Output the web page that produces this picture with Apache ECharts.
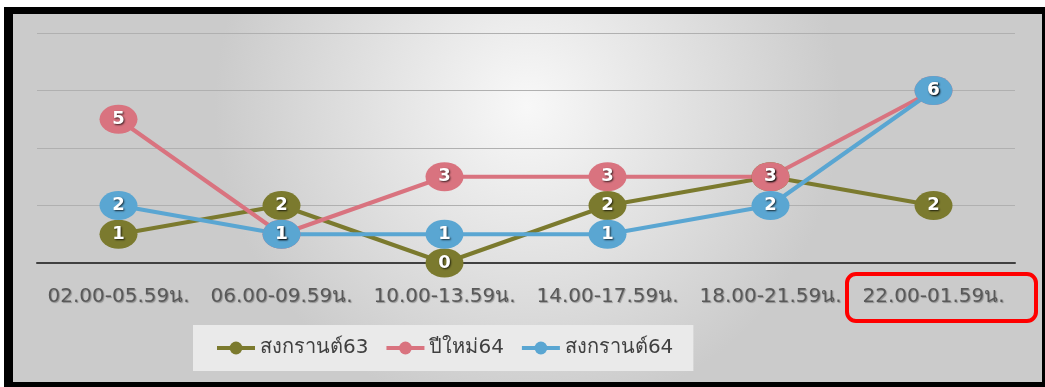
<!DOCTYPE html>
<html><head><meta charset="utf-8">
<script src="https://cdn.jsdelivr.net/npm/echarts@6/dist/echarts.min.js"></script>
<style>html,body{margin:0;padding:0;background:#fff}#c{width:1045px;height:387px}</style>
</head><body><div id="c"></div>
<script>
var categories = ['02.00-05.59น.', '06.00-09.59น.', '10.00-13.59น.', '14.00-17.59น.', '18.00-21.59น.', '22.00-01.59น.'];
var songkran63 = [1, 2, 0, 2, 3, 2];
var newYear64 = [5, 1, 3, 3, 3, 6];
var songkran64 = [2, 1, 1, 1, 2, 6];
var seriesNames = ['สงกรานต์63', 'ปีใหม่64', 'สงกรานต์64'];
var colors = ['#7b7a2e', '#d9737f', '#5aa6d2'];

var ellipse = 'path://M0,50 A50,50 0 1,1 100,50 A50,50 0 1,1 0,50 Z';
var font = '"DejaVu Sans", Verdana, sans-serif';

function mk(name, data, color) {
  return {
    name: name, type: 'line', data: data,
    symbol: ellipse, symbolSize: [38, 29], symbolKeepAspect: false,
    lineStyle: { color: color, width: 4 },
    itemStyle: { color: color },
    label: { show: true, position: 'inside', color: '#fff', fontFamily: font, fontWeight: 'bold', fontSize: 18,
      textShadowColor: 'rgba(0,0,0,0.75)', textShadowBlur: 2, textShadowOffsetX: 1, textShadowOffsetY: 1 },
    emphasis: { disabled: true }, animation: false
  };
}

var chart = echarts.init(document.getElementById('c'));
chart.setOption({
  backgroundColor: '#fff',
  animation: false,
  graphic: [
    { type: 'rect', z: -11, shape: { x: 4, y: 7, width: 1041, height: 380 }, style: { fill: '#000' } },
    { type: 'rect', z: -10, shape: { x: 13, y: 14, width: 1029, height: 368 },
      style: { fill: { type: 'radial', x: 0.5, y: 0.25, r: 0.85, colorStops: [{ offset: 0, color: '#f8f8f8' }, { offset: 1, color: '#cbcbcb' }] } } },
    { type: 'rect', z: 100, shape: { x: 847, y: 274, width: 189, height: 47, r: 9 },
      style: { fill: 'none', stroke: '#ff0000', lineWidth: 4 } }
  ],
  grid: { left: 37, right: 30, top: 33, bottom: 124 },
  legend: {
    data: seriesNames, top: 325, left: 193,
    backgroundColor: '#eaeaea', padding: [13, 20, 13, 22], itemGap: 16,
    itemWidth: 38, itemHeight: 16,
    lineStyle: { width: 4 },
    textStyle: { color: '#404040', fontFamily: font, fontSize: 20 }
  },
  xAxis: {
    type: 'category', data: categories, boundaryGap: true,
    axisLine: { lineStyle: { color: '#404040', width: 2 } },
    axisTick: { show: false },
    axisLabel: { color: '#595959', fontFamily: font, fontSize: 20, margin: 24, interval: 0,
      textShadowColor: 'rgba(0,0,0,0.3)', textShadowBlur: 1, textShadowOffsetX: 1, textShadowOffsetY: 1 }
  },
  yAxis: {
    type: 'value', min: 0, max: 8, interval: 2,
    axisLabel: { show: false }, axisLine: { show: false }, axisTick: { show: false },
    splitLine: { lineStyle: { color: '#b0b0b0', width: 1 } }
  },
  series: [mk(seriesNames[0], songkran63, colors[0]), mk(seriesNames[1], newYear64, colors[1]), mk(seriesNames[2], songkran64, colors[2])]
});
</script></body></html>
